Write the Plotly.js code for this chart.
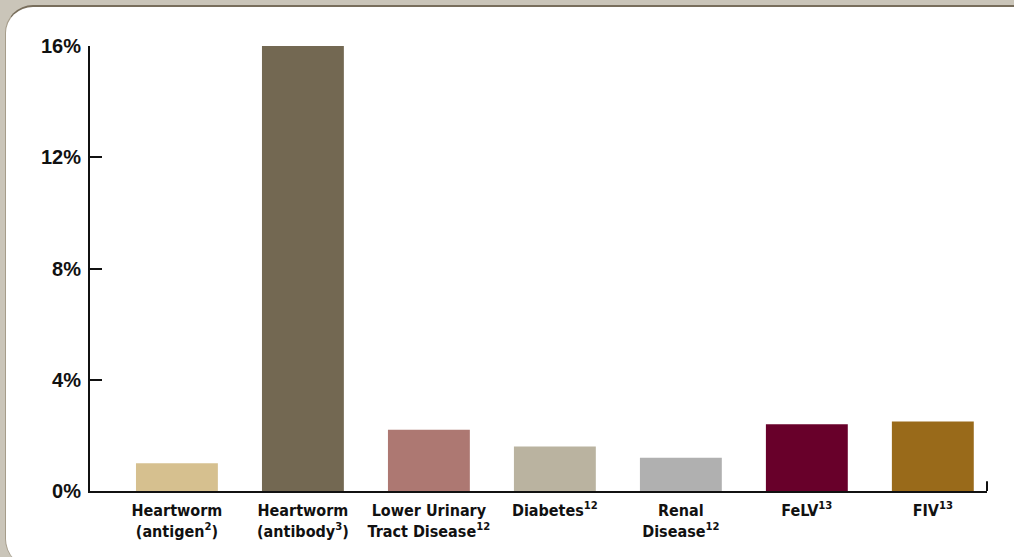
<!DOCTYPE html>
<html>
<head>
<meta charset="utf-8">
<script src="https://cdn.plot.ly/plotly-3.0.1.min.js"></script>
<style>
  html, body { margin: 0; padding: 0; width: 1014px; height: 557px; overflow: hidden; background: #cac5b9; }
  #panel { position: absolute; left: 5px; top: 5px; width: 1060px; height: 562px; background: #ffffff;
           border-radius: 28px; border-top: 2px solid #786e5c; border-left: 1px solid #a59c8a; box-sizing: border-box; }
  #chart { position: absolute; left: 0; top: 0; width: 1014px; height: 557px; }
</style>
</head>
<body>
<div id="panel"></div>
<div id="chart"></div>
<script>
const categories = [
  "Heartworm<br>(antigen<sup>2</sup>)",
  "Heartworm<br>(antibody<sup>3</sup>)",
  "Lower Urinary<br>Tract Disease<sup>12</sup>",
  "Diabetes<sup>12</sup>",
  "Renal<br>Disease<sup>12</sup>",
  "FeLV<sup>13</sup>",
  "FIV<sup>13</sup>"
];
const prevalence = [1.0, 16.0, 2.2, 1.6, 1.2, 2.4, 2.5];
const barColors = ["#d6c08f", "#736852", "#ad7872", "#bab3a0", "#b0b0b0", "#68002a", "#996a1a"];
const yTicks = [0, 4, 8, 12, 16];
const yTickText = ["0%", "4%", "8%", "12%", "16%"];

const trace = {
  type: "bar",
  x: categories.map((c, i) => i),
  y: prevalence,
  marker: { color: barColors, line: { width: 0 } },
  hoverinfo: "skip"
};

const layout = {
  width: 1014, height: 557,
  margin: { l: 90, r: 27, t: 46, b: 66 },
  paper_bgcolor: "rgba(0,0,0,0)",
  plot_bgcolor: "rgba(0,0,0,0)",
  bargap: 0.35,
  showlegend: false,
  xaxis: {
    range: [-0.69, 6.43],
    tickmode: "array",
    tickvals: categories.map((c, i) => i),
    ticktext: categories,
    showline: true, linecolor: "#111111", linewidth: 2,
    ticks: "", showgrid: false, zeroline: false,
    ticklabelstandoff: 4,
    tickfont: { family: "'Liberation Sans Narrow', 'DejaVu Sans Condensed', Arial", size: 16, color: "#111111", weight: "bold" },
    fixedrange: true
  },
  yaxis: {
    range: [0, 16],
    tickmode: "array",
    tickvals: yTicks,
    ticktext: yTickText,
    showline: true, linecolor: "#111111", linewidth: 2,
    ticks: "inside", ticklen: 12, tickwidth: 2, tickcolor: "#111111",
    showgrid: false, zeroline: false,
    ticklabelstandoff: 3,
    tickfont: { family: "'Liberation Sans', Arial, sans-serif", size: 20, color: "#111111", weight: "bold" },
    fixedrange: true
  },
  shapes: [
    { type: "line", xref: "paper", yref: "paper", x0: 1, x1: 1, y0: 0, y1: 0.022,
      line: { color: "#111111", width: 2 } }
  ]
};

Plotly.newPlot("chart", [trace], layout, { displayModeBar: false, staticPlot: true });
</script>
</body>
</html>
